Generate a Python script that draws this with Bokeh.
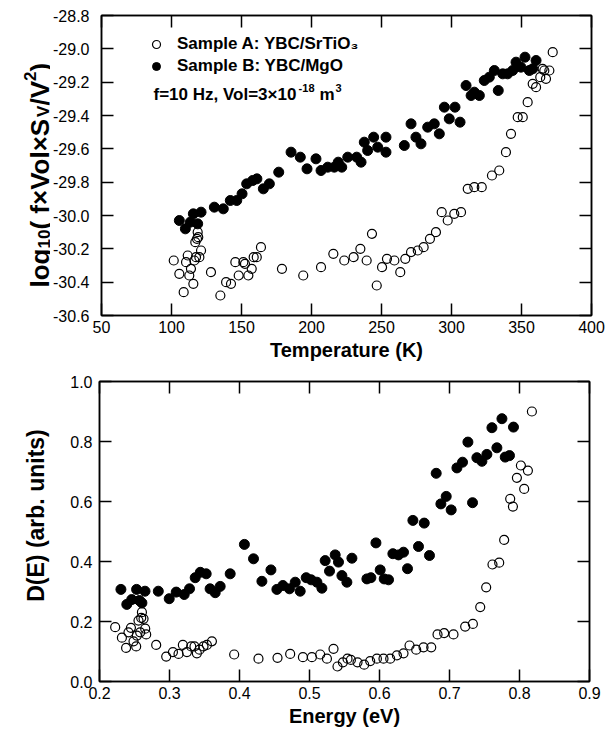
import math
from bokeh.plotting import figure
from bokeh.layouts import column, row
from bokeh.models import (Range1d, FixedTicker, NumeralTickFormatter, LinearAxis,
                          Label, Legend, LegendItem)
from bokeh.embed import file_html
from bokeh.resources import INLINE

# ---------------- data: top panel (noise vs temperature) ----------------
T_A = [101.6, 105.6, 108.7, 110.4, 111.6, 112.7, 113.9, 115.6, 116.3, 117.0, 118.2, 118.7,
       119.1, 119.9, 121.1, 117.5, 128.2, 134.9, 139.0, 142.5, 145.6, 148.0, 151.3, 152.5,
       154.9, 157.3, 158.7, 160.9, 163.9, 178.9, 194.1, 206.8, 215.6, 223.4, 230.1, 234.9,
       239.4, 243.2, 246.6, 250.4, 253.9, 259.2, 263.4, 267.0, 271.1, 275.9, 280.1, 284.6,
       288.9, 293.0, 297.3, 302.0, 306.8, 311.6, 316.3, 321.6, 328.9, 334.1, 338.9, 342.5,
       347.3, 350.9, 354.4, 358.0, 360.4, 363.4, 366.3, 367.5, 369.9, 372.3, 365.1]
V_A = [-30.27, -30.35, -30.46, -30.28, -30.24, -30.36, -30.32, -30.41, -30.27, -30.16, -30.14, -30.10,
       -30.13, -30.25, -30.21, -30.25, -30.34, -30.48, -30.40, -30.41, -30.28, -30.36, -30.28, -30.29,
       -30.36, -30.32, -30.25, -30.25, -30.19, -30.32, -30.36, -30.31, -30.23, -30.27, -30.25, -30.20,
       -30.27, -30.11, -30.42, -30.31, -30.26, -30.27, -30.34, -30.26, -30.22, -30.21, -30.19, -30.14,
       -30.10, -29.98, -30.03, -29.99, -29.98, -29.84, -29.83, -29.83, -29.76, -29.73, -29.62, -29.51,
       -29.41, -29.41, -29.32, -29.21, -29.23, -29.17, -29.13, -29.18, -29.13, -29.02, -29.12]

T_B = [105.6, 109.9, 113.4, 115.6, 118.7, 121.1, 130.6, 137.0, 142.0, 146.6, 150.4, 153.7,
       158.0, 161.0, 165.6, 169.9, 176.6, 185.4, 192.0, 196.8, 203.2, 206.8, 211.6, 216.3,
       219.1, 221.6, 225.9, 232.3, 235.4, 240.1, 253.2, 237.7, 244.4, 247.3, 253.2, 266.3,
       271.1, 274.6, 278.2, 283.0, 287.7, 291.3, 294.9, 298.4, 302.5, 306.1, 310.4, 314.0,
       316.3, 319.9, 323.4, 327.0, 330.6, 333.4, 336.6, 340.1, 343.7, 346.1, 349.6, 352.5,
       355.6, 358.0, 360.4]
V_B = [-30.03, -30.08, -30.04, -29.99, -30.05, -29.98, -29.95, -29.96, -29.91, -29.91, -29.87, -29.81,
       -29.79, -29.78, -29.84, -29.81, -29.74, -29.62, -29.65, -29.72, -29.66, -29.73, -29.71, -29.71,
       -29.68, -29.71, -29.65, -29.65, -29.68, -29.61, -29.62, -29.56, -29.53, -29.59, -29.53, -29.58,
       -29.45, -29.53, -29.57, -29.47, -29.45, -29.51, -29.35, -29.42, -29.35, -29.44, -29.22, -29.28,
       -29.26, -29.28, -29.19, -29.17, -29.13, -29.25, -29.15, -29.15, -29.13, -29.08, -29.11, -29.05,
       -29.13, -29.12, -29.07]

# ---------------- data: bottom panel (D(E) vs energy) ----------------
E_A = [0.2224, 0.232, 0.238, 0.2414, 0.2449, 0.2486, 0.2524, 0.2534, 0.2557, 0.2581, 0.2596, 0.2606,
       0.2629, 0.2653, 0.2667, 0.281, 0.2953, 0.3049, 0.3129, 0.3191, 0.3249, 0.331, 0.3357, 0.3391,
       0.3429, 0.3486, 0.3534, 0.3606, 0.3924, 0.4271, 0.4543, 0.4724, 0.4906, 0.5034, 0.5153, 0.5249,
       0.5343, 0.540, 0.5477, 0.5543, 0.5591, 0.5686, 0.5781, 0.5867, 0.5963, 0.6057, 0.6153, 0.6249,
       0.6343, 0.6429, 0.6524, 0.6629, 0.6739, 0.6829, 0.6924, 0.7057, 0.7224, 0.7334, 0.7439, 0.7524,
       0.7614, 0.771, 0.7781, 0.7867, 0.7906, 0.7963, 0.8067, 0.802, 0.812, 0.8177]
D_A = [0.181, 0.146, 0.112, 0.164, 0.179, 0.134, 0.117, 0.153, 0.203, 0.164, 0.212, 0.231,
       0.209, 0.176, 0.157, 0.122, 0.083, 0.098, 0.092, 0.122, 0.098, 0.117, 0.117, 0.094,
       0.106, 0.117, 0.122, 0.134, 0.090, 0.076, 0.079, 0.092, 0.081, 0.081, 0.090, 0.076,
       0.109, 0.050, 0.064, 0.076, 0.072, 0.064, 0.056, 0.068, 0.076, 0.076, 0.076, 0.087,
       0.094, 0.120, 0.106, 0.114, 0.114, 0.157, 0.161, 0.157, 0.183, 0.192, 0.248, 0.314,
       0.390, 0.396, 0.472, 0.609, 0.583, 0.679, 0.642, 0.720, 0.703, 0.900]

E_B = [0.2306, 0.239, 0.246, 0.253, 0.257, 0.2606, 0.265, 0.284, 0.2996, 0.3096, 0.321, 0.3286,
       0.3367, 0.344, 0.3524, 0.358, 0.3653, 0.3724, 0.3867, 0.407, 0.420, 0.432, 0.4449, 0.4534,
       0.462, 0.4714, 0.4796, 0.4867, 0.4953, 0.5024, 0.5106, 0.5177, 0.5224, 0.5286, 0.5367, 0.5414,
       0.5463, 0.5534, 0.5606, 0.582, 0.5877, 0.5949, 0.601, 0.6067, 0.6129, 0.6191, 0.6271, 0.6343,
       0.640, 0.6557, 0.6714, 0.6477, 0.6639, 0.681, 0.6877, 0.6953, 0.7024, 0.7106, 0.7186, 0.7263,
       0.7329, 0.7391, 0.7463, 0.7534, 0.7606, 0.7677, 0.7749, 0.7796, 0.7857, 0.7914]
D_B = [0.307, 0.257, 0.273, 0.307, 0.270, 0.262, 0.301, 0.301, 0.276, 0.298, 0.290, 0.309,
       0.346, 0.364, 0.359, 0.309, 0.296, 0.317, 0.359, 0.457, 0.409, 0.334, 0.372, 0.307,
       0.320, 0.309, 0.331, 0.301, 0.346, 0.339, 0.331, 0.311, 0.403, 0.368, 0.422, 0.398,
       0.353, 0.331, 0.411, 0.342, 0.346, 0.462, 0.372, 0.342, 0.339, 0.426, 0.422, 0.431,
       0.376, 0.450, 0.420, 0.537, 0.528, 0.694, 0.592, 0.617, 0.572, 0.712, 0.731, 0.798,
       0.596, 0.746, 0.734, 0.757, 0.846, 0.779, 0.876, 0.748, 0.753, 0.848]

# ---------------- ticks ----------------
T_TICKS = [50, 100, 150, 200, 250, 300, 350, 400]
V_TICKS = [-30.6, -30.4, -30.2, -30.0, -29.8, -29.6, -29.4, -29.2, -29.0, -28.8]
E_TICKS = [0.2, 0.3, 0.4, 0.5, 0.6, 0.7, 0.8, 0.9]
D_TICKS = [0.0, 0.2, 0.4, 0.6, 0.8, 1.0]

FONT = "Liberation Sans"
FRAME_W, FRAME_H = 490, 300
STRIP_W = 50
TOP_H = 365
BOT_H = 366

# approximate Arial/Helvetica Bold advance widths (per 1000 em)
BW = {'l': 278, 'o': 611, 'g': 611, '(': 333, ')': 333, ' ': 278, 'f': 333, '×': 584,
      'V': 667, 'S': 667, '/': 278, '0': 556, '1': 556, '2': 556, '3': 556, '8': 556,
      '-': 333, '=': 584, 'H': 722, 'z': 500, ',': 278, 'm': 889}


def tw(s, size):
    return sum(BW.get(c, 556) for c in s) * size / 1000.0


def make_fig(xr, yr, xt, yt, ml, mt, mr, mb, ystand, fmt_x):
    p = figure(frame_width=FRAME_W, frame_height=FRAME_H,
               x_range=Range1d(*xr), y_range=Range1d(*yr),
               x_axis_type=None, y_axis_type=None,
               output_backend="svg", toolbar_location=None,
               min_border_left=ml, min_border_top=mt, min_border_right=mr, min_border_bottom=mb,
               background_fill_color="white", border_fill_color="white")
    p.outline_line_color = "black"
    p.outline_line_width = 1.5
    axes = {}
    for place, ticks, show, stand, fmt in (("below", xt, True, 5, fmt_x), ("above", xt, False, 0, fmt_x),
                                           ("left", yt, True, ystand, "0.0"), ("right", yt, False, 0, "0.0")):
        ax = LinearAxis(ticker=FixedTicker(ticks=ticks), formatter=NumeralTickFormatter(format=fmt))
        ax.major_tick_in = 12
        ax.major_tick_out = 0
        ax.minor_tick_line_color = None
        ax.major_tick_line_width = 1.5
        ax.axis_line_width = 1.5
        ax.major_label_standoff = stand
        ax.major_label_text_font = FONT
        if show:
            ax.major_label_text_font_size = "16px"
            ax.major_label_text_color = "black"
        else:
            ax.major_label_text_font_size = "1px"
            ax.major_label_text_color = None
        ax.axis_label_text_font = FONT
        ax.axis_label_text_font_style = "bold"
        ax.axis_label_text_color = "black"
        p.add_layout(ax, place)
        axes[place] = ax
    return p, axes


def make_strip(h):
    s = figure(frame_width=STRIP_W, frame_height=h, x_range=Range1d(0, STRIP_W),
               y_range=Range1d(0, h), x_axis_type=None, y_axis_type=None,
               output_backend="svg", toolbar_location=None,
               min_border_left=0, min_border_right=0, min_border_top=0, min_border_bottom=0,
               background_fill_color="white", border_fill_color="white")
    s.outline_line_color = None
    return s


# ---------------- top panel ----------------
top, tax = make_fig((50, 400), (-30.6, -28.8), T_TICKS, V_TICKS, 101 - STRIP_W, 15, 14,
                    TOP_H - 315, 12, "0")
tax["below"].axis_label = "Temperature (K)"
tax["below"].axis_label_text_font_size = "20px"
tax["below"].axis_label_standoff = 3
TL, TT = 101, 15  # frame left/top in page pixels


def txy(px, py):
    return 50 + (px - TL) * 350 / FRAME_W, -28.8 - (py - TT) * 1.8 / FRAME_H


rb = top.scatter(T_B, V_B, marker="circle", size=10, fill_color="black", line_color="black")
ra = top.scatter(T_A, V_A, marker="circle", size=9, fill_color=None, line_color="black",
                 line_width=1.2)

legend = Legend(items=[LegendItem(label="Sample A: YBC/SrTiO\u2083", renderers=[ra]),
                       LegendItem(label="Sample B: YBC/MgO", renderers=[rb])],
                location=(45, 239), margin=0, padding=0, spacing=2,
                glyph_width=20, glyph_height=20, label_height=20, label_standoff=11,
                border_line_color=None, background_fill_alpha=0,
                label_text_font=FONT, label_text_font_style="bold",
                label_text_font_size="17px", label_text_color="black")
top.add_layout(legend)

# annotation line: f=10 Hz, Vol=3x10^-18 m^3
ax0, ay0 = txy(153, 94)
LS, SS = 17, 11
pieces = [("f=10 Hz, Vol=3\u00d710", LS, 0, 0), ("-18", SS, 7, 1), ("m", LS, 0, 5), ("3", SS, 7, 1)]
off = 0.0
for s, sz, dy, gap in pieces:
    off += gap
    top.add_layout(Label(x=ax0, y=ay0, x_offset=off, y_offset=dy, text=s,
                         text_font=FONT, text_font_style="bold", text_font_size=f"{sz}px",
                         text_align="left", text_baseline="alphabetic", text_color="black"))
    off += tw(s, sz)

# strip holding the rotated top y title: log10( f x Vol x S_V / V^2 )
strip1 = make_strip(TOP_H)
F, S = 26, 17
sx0, sy0 = 39, TOP_H - 272
ylab = [("log", F, 0), ("10", S, 4), ("( f\u00d7Vol\u00d7S", F, 0), ("V", S, 4),
        ("/V", F, 0), ("2", S, -10), (")", F, 0)]
along = 0.0
for s, sz, perp in ylab:
    strip1.add_layout(Label(x=sx0, y=sy0, x_offset=perp, y_offset=along, text=s, angle=math.pi / 2,
                            text_font=FONT, text_font_style="bold", text_font_size=f"{sz}px",
                            text_align="left", text_baseline="alphabetic", text_color="black"))
    along += tw(s, sz)

# ---------------- bottom panel ----------------
bot, bax = make_fig((0.2, 0.9), (0.0, 1.0), E_TICKS, D_TICKS, 99 - STRIP_W, 381 - TOP_H, 16,
                    BOT_H - (381 - TOP_H) - 300, 7, "0.0")
bax["below"].axis_label = "Energy (eV)"
bax["below"].axis_label_text_font_size = "20px"
bax["below"].axis_label_standoff = 3

bot.scatter(E_B, D_B, marker="circle", size=10, fill_color="black", line_color="black")
bot.scatter(E_A, D_A, marker="circle", size=9, fill_color=None, line_color="black", line_width=1.2)

strip2 = make_strip(BOT_H)
strip2.add_layout(Label(x=35, y=BOT_H - (499 - TOP_H), text="D(E) (arb. units)", angle=math.pi / 2,
                        text_font=FONT, text_font_style="bold", text_font_size="23px",
                        text_align="center", text_baseline="middle", text_color="black"))

layout = column(row(strip1, top, spacing=0), row(strip2, bot, spacing=0), spacing=0)
open("out.html", "w").write(file_html(layout, INLINE))
